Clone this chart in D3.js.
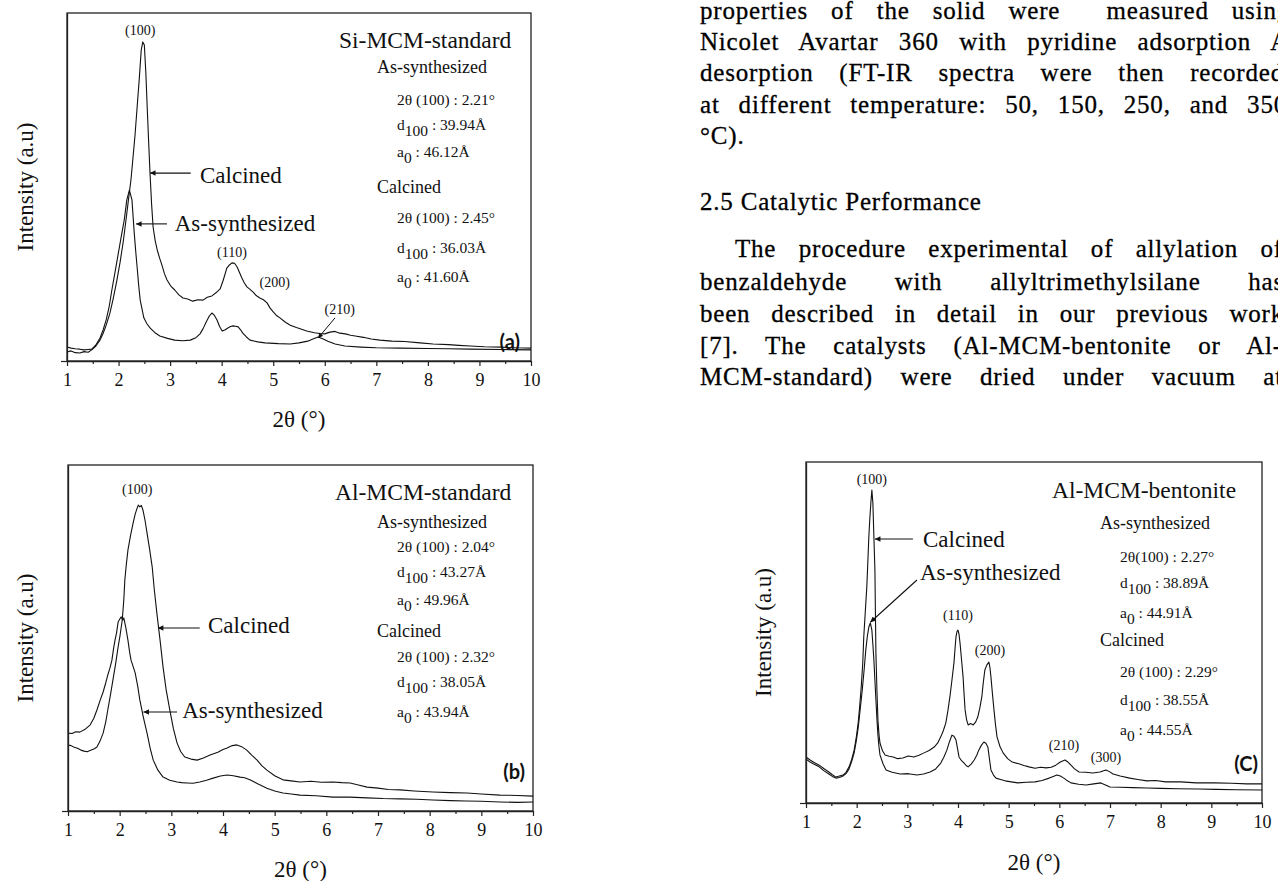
<!DOCTYPE html>
<html>
<head>
<meta charset="utf-8">
<script src="https://cdn.jsdelivr.net/npm/d3@7"></script>
<style>
body { margin: 0; background: #fff; }
svg { display: block; }
.ser { font-family: "Liberation Serif", "Times New Roman", serif; fill: #111; }
.tag { font-family: Lato, "Open Sans", sans-serif; font-weight: bold; font-size: 20px; fill: #111; }
</style>
</head>
<body>
<script>
// x ticks (2theta, degrees)
var xTicks = [1, 2, 3, 4, 5, 6, 7, 8, 9, 10];
var xMinor = [1.5, 2.5, 3.5, 4.5, 5.5, 6.5, 7.5, 8.5, 9.5];

// (a) Si-MCM-standard, [2theta, intensity a.u.]
var aCalcined = [[1.00,2.6],[1.08,2.9],[1.16,2.4],[1.25,2.3],[1.33,2.7],[1.41,2.5],[1.48,3.2],[1.56,4.3],[1.64,6.0],[1.70,7.9],[1.76,10.3],[1.83,13.6],[1.89,17.5],[1.96,22.6],[2.03,28.4],[2.09,34.2],[2.14,40.0],[2.19,46.1],[2.24,52.0],[2.28,58.4],[2.32,65.0],[2.36,72.9],[2.40,80.7],[2.44,89.4],[2.47,91.7],[2.50,90.8],[2.53,82.6],[2.55,75.0],[2.58,64.2],[2.61,54.0],[2.64,45.3],[2.67,38.5],[2.71,34.6],[2.75,31.9],[2.80,29.4],[2.84,27.6],[2.89,25.1],[2.94,23.3],[3.01,21.6],[3.09,20.4],[3.17,19.0],[3.25,18.1],[3.34,17.8],[3.44,17.2],[3.54,17.6],[3.64,17.5],[3.72,18.3],[3.81,18.7],[3.89,19.6],[3.97,20.7],[4.03,23.2],[4.10,26.7],[4.15,27.6],[4.20,28.2],[4.25,28.1],[4.30,27.0],[4.35,25.3],[4.39,23.9],[4.44,22.4],[4.49,21.3],[4.55,20.6],[4.61,19.8],[4.67,18.8],[4.74,18.1],[4.81,17.6],[4.88,16.7],[4.94,15.2],[5.00,14.1],[5.07,13.0],[5.13,12.4],[5.23,11.2],[5.33,10.3],[5.45,9.6],[5.55,9.1],[5.65,8.6],[5.80,8.1],[5.90,7.9],[6.00,7.8],[6.10,8.3],[6.20,8.5],[6.29,8.0],[6.40,7.8],[6.50,7.4],[6.59,7.2],[6.75,6.8],[6.90,6.3],[7.07,6.0],[7.30,5.7],[7.55,5.6],[7.85,5.2],[8.10,4.9],[8.40,4.7],[8.60,4.5],[8.82,4.3],[9.10,4.1],[9.40,4.0],[9.70,3.8],[10.0,3.7]];
var aSynth = [[1.00,4.0],[1.08,3.7],[1.16,3.5],[1.25,3.4],[1.33,3.2],[1.41,3.3],[1.48,3.4],[1.56,4.6],[1.64,6.6],[1.70,8.9],[1.76,11.8],[1.82,15.8],[1.87,20.4],[1.93,25.4],[1.99,30.5],[2.05,35.6],[2.11,40.5],[2.16,46.3],[2.21,49.1],[2.26,46.3],[2.30,37.6],[2.33,32.0],[2.36,27.0],[2.39,21.8],[2.42,17.5],[2.49,12.4],[2.55,10.7],[2.61,9.5],[2.70,8.2],[2.80,7.2],[2.95,6.5],[3.09,6.0],[3.24,5.8],[3.39,6.0],[3.50,6.7],[3.58,7.8],[3.64,9.3],[3.70,11.2],[3.76,12.9],[3.81,13.8],[3.86,13.1],[3.91,11.8],[3.96,9.9],[4.01,8.6],[4.07,9.0],[4.12,9.5],[4.17,9.9],[4.22,10.1],[4.27,10.0],[4.32,9.8],[4.37,8.9],[4.41,8.0],[4.48,6.9],[4.55,6.0],[4.70,5.5],[4.84,5.2],[5.10,5.0],[5.33,4.9],[5.50,5.2],[5.67,5.7],[5.77,6.3],[5.87,6.9],[5.96,6.4],[6.06,5.7],[6.20,4.9],[6.39,4.3],[6.70,4.0],[7.00,3.8],[7.46,3.7],[8.00,3.6],[8.40,3.5],[8.82,3.4],[9.40,3.3],[10.0,3.2]];

// (b) Al-MCM-standard
var bCalcined = [[1.00,19.1],[1.06,18.9],[1.12,18.4],[1.17,18.2],[1.25,17.6],[1.31,17.3],[1.37,17.1],[1.45,17.6],[1.51,18.0],[1.56,18.5],[1.62,20.2],[1.68,22.5],[1.73,25.7],[1.77,29.2],[1.82,33.4],[1.87,37.9],[1.92,42.4],[1.97,47.4],[2.01,51.0],[2.05,55.2],[2.08,61.0],[2.10,66.8],[2.13,71.4],[2.16,75.4],[2.21,79.6],[2.26,83.2],[2.30,85.8],[2.34,87.6],[2.36,88.4],[2.39,87.9],[2.42,88.3],[2.45,87.0],[2.49,84.1],[2.53,80.3],[2.58,75.6],[2.63,70.5],[2.67,64.0],[2.72,57.2],[2.78,49.6],[2.84,41.6],[2.90,35.0],[2.97,29.2],[3.04,23.8],[3.11,19.7],[3.18,17.2],[3.26,15.6],[3.38,15.0],[3.50,14.7],[3.62,15.3],[3.75,16.2],[3.90,17.0],[4.00,17.8],[4.08,18.2],[4.18,18.9],[4.27,19.1],[4.36,18.6],[4.46,17.6],[4.56,16.1],[4.66,14.7],[4.75,13.1],[4.85,11.8],[5.00,10.2],[5.16,9.0],[5.32,8.7],[5.49,8.4],[5.70,8.6],[5.90,8.3],[6.13,8.4],[6.30,8.2],[6.46,8.1],[6.62,7.5],[6.79,6.9],[7.00,6.6],[7.20,6.2],[7.43,6.1],[7.70,5.8],[8.06,5.5],[8.40,5.3],[8.72,5.2],[9.00,4.9],[9.36,4.6],[9.70,4.5],[10.0,4.3]];
var bSynth = [[1.00,22.5],[1.08,22.4],[1.15,22.9],[1.23,22.8],[1.33,23.6],[1.43,24.9],[1.50,26.8],[1.56,29.2],[1.62,31.9],[1.68,34.4],[1.73,37.0],[1.77,39.3],[1.81,41.2],[1.85,43.6],[1.88,46.8],[1.91,49.4],[1.94,51.5],[1.97,54.6],[2.00,55.4],[2.03,56.1],[2.06,55.2],[2.08,55.8],[2.12,52.9],[2.16,49.4],[2.19,46.2],[2.22,43.6],[2.26,41.8],[2.30,39.9],[2.35,36.0],[2.39,32.1],[2.46,27.0],[2.53,22.5],[2.59,18.2],[2.65,14.7],[2.74,11.8],[2.84,9.8],[2.97,8.9],[3.11,8.4],[3.20,8.2],[3.30,8.1],[3.42,8.0],[3.55,8.4],[3.68,8.9],[3.81,9.5],[3.95,10.1],[4.08,10.4],[4.20,10.2],[4.33,9.8],[4.42,9.6],[4.52,9.0],[4.68,7.8],[4.85,6.6],[5.00,5.8],[5.16,5.2],[5.32,4.9],[5.49,4.6],[5.80,4.4],[6.13,4.0],[6.45,4.0],[6.79,3.8],[7.10,3.6],[7.43,3.5],[7.75,3.4],[8.06,3.2],[8.40,3.0],[8.70,2.9],[9.00,2.8],[9.36,2.6],[9.70,2.5],[10.0,2.6]];

// (C) Al-MCM-bentonite
var cCalcined = [[1.00,13.5],[1.08,12.6],[1.17,11.8],[1.26,11.1],[1.35,10.1],[1.45,9.1],[1.52,8.3],[1.59,7.6],[1.66,7.9],[1.73,8.2],[1.79,9.0],[1.85,10.6],[1.90,12.7],[1.95,15.5],[1.99,19.0],[2.03,23.5],[2.06,28.4],[2.09,34.0],[2.12,41.0],[2.14,48.7],[2.17,56.0],[2.20,63.3],[2.22,70.5],[2.24,78.0],[2.26,83.5],[2.28,88.0],[2.30,91.8],[2.32,88.0],[2.34,78.0],[2.36,68.3],[2.37,56.0],[2.38,44.0],[2.40,33.0],[2.42,24.3],[2.44,20.2],[2.46,17.6],[2.51,15.3],[2.56,14.1],[2.64,13.7],[2.72,13.5],[2.81,13.0],[2.91,13.2],[3.02,13.8],[3.13,13.5],[3.23,14.0],[3.33,14.7],[3.43,15.4],[3.53,16.4],[3.60,17.6],[3.66,19.4],[3.71,21.2],[3.76,23.5],[3.80,27.0],[3.84,31.1],[3.88,36.0],[3.92,41.1],[3.94,45.0],[3.96,48.7],[3.98,50.3],[4.00,50.7],[4.02,49.5],[4.04,46.9],[4.07,42.0],[4.10,37.0],[4.12,31.9],[4.14,27.3],[4.17,24.4],[4.20,22.9],[4.25,23.3],[4.30,22.9],[4.35,23.8],[4.39,25.2],[4.43,27.8],[4.47,31.1],[4.50,35.4],[4.53,39.0],[4.57,40.5],[4.61,41.3],[4.63,39.8],[4.65,37.0],[4.68,32.0],[4.71,27.3],[4.74,23.0],[4.77,19.4],[4.83,16.5],[4.89,14.7],[4.98,13.0],[5.07,12.0],[5.20,11.5],[5.30,11.0],[5.40,10.6],[5.52,10.2],[5.63,10.5],[5.74,10.3],[5.84,10.5],[5.93,11.1],[6.02,12.0],[6.11,12.6],[6.17,12.0],[6.23,11.1],[6.30,10.0],[6.39,9.1],[6.52,9.0],[6.66,8.8],[6.80,9.1],[6.92,9.7],[6.99,9.2],[7.06,8.5],[7.20,7.9],[7.39,7.3],[7.55,6.9],[7.73,6.5],[7.90,6.6],[8.10,6.2],[8.40,6.2],[8.70,5.9],[9.07,5.9],[9.40,5.8],[9.70,5.6],[10.0,5.6]];
var cSynth = [[1.00,12.9],[1.08,12.0],[1.17,11.3],[1.26,10.6],[1.35,9.5],[1.45,8.5],[1.52,7.8],[1.59,7.3],[1.66,7.5],[1.73,7.9],[1.79,8.6],[1.85,10.0],[1.90,12.1],[1.95,14.7],[1.99,18.0],[2.03,22.0],[2.07,27.5],[2.11,33.1],[2.15,39.5],[2.18,44.9],[2.21,48.8],[2.24,51.6],[2.27,52.8],[2.30,50.7],[2.32,46.5],[2.34,41.9],[2.36,36.0],[2.38,30.2],[2.40,24.6],[2.42,19.9],[2.44,16.6],[2.46,14.1],[2.52,11.5],[2.58,9.7],[2.70,9.0],[2.86,8.5],[3.02,8.6],[3.19,8.2],[3.32,8.5],[3.45,9.1],[3.56,10.0],[3.66,11.7],[3.72,13.4],[3.78,15.5],[3.83,17.9],[3.88,19.9],[3.92,19.6],[3.96,18.5],[3.99,16.0],[4.02,13.5],[4.07,12.4],[4.12,11.7],[4.16,11.0],[4.20,10.6],[4.26,11.4],[4.32,12.6],[4.37,14.0],[4.41,15.5],[4.46,16.9],[4.51,17.9],[4.55,17.5],[4.59,16.4],[4.62,13.0],[4.65,9.7],[4.70,8.2],[4.75,7.3],[4.84,6.9],[4.93,6.5],[5.05,6.2],[5.18,5.9],[5.35,6.1],[5.52,6.2],[5.66,6.6],[5.80,7.3],[5.88,7.8],[5.95,8.2],[6.02,7.9],[6.09,7.3],[6.16,6.5],[6.23,5.9],[6.38,5.5],[6.53,5.3],[6.68,5.6],[6.82,5.9],[6.91,5.3],[7.00,4.7],[7.20,4.6],[7.45,4.5],[7.73,4.4],[8.00,4.3],[8.35,4.2],[8.74,4.1],[9.10,4.0],[9.50,3.9],[10.0,3.8]];

// labels
var aTitle = "Si-MCM-standard", bTitle = "Al-MCM-standard", cTitle = "Al-MCM-bentonite";
var aSynthInfo = ["2θ (100) : 2.21°", "39.94Å", "46.12Å"];
var aCalcInfo  = ["2θ (100) : 2.45°", "36.03Å", "41.60Å"];
var bSynthInfo = ["2θ (100) : 2.04°", "43.27Å", "49.96Å"];
var bCalcInfo  = ["2θ (100) : 2.32°", "38.05Å", "43.94Å"];
var cSynthInfo = ["2θ(100) : 2.27°", "38.89Å", "44.91Å"];
var cCalcInfo  = ["2θ (100) : 2.29°", "38.55Å", "44.55Å"];
var aPeaks = ["(100)", "(110)", "(200)", "(210)"];
var bPeaks = ["(100)"];
var cPeaks = ["(100)", "(110)", "(200)", "(210)", "(300)"];

var bodyLines = [
    "properties of the solid were  measured using",
    "Nicolet Avartar 360 with pyridine adsorption A",
    "desorption (FT-IR spectra were then recorded",
    "at different temperature: 50, 150, 250, and 350",
    "°C).",
    "2.5 Catalytic Performance",
    "The procedure experimental of allylation of",
    "benzaldehyde with allyltrimethylsilane has",
    "been described in detail in our previous work",
    "[7]. The catalysts (Al-MCM-bentonite or Al-",
    "MCM-standard) were dried under vacuum at"
];

var svg = d3.select("body").append("svg")
    .attr("width", 1278)
    .attr("height", 881);

svg.append("defs").append("marker")
    .attr("id", "arr")
    .attr("viewBox", "0 0 10 10")
    .attr("refX", 10).attr("refY", 5)
    .attr("markerWidth", 7).attr("markerHeight", 5)
    .attr("orient", "auto")
    .append("path").attr("d", "M0,0L10,5L0,10z").attr("fill", "#111");

// body text on the right, justified by word spacing
var bodyX = [700, 700, 700, 700, 700, 700, 735, 700, 700, 700, 700];
var bodyY = [19, 50, 81, 113, 144, 210, 257, 290, 322, 354, 385];
var bodyEnd = [1290, 1289, 1284, 1287, 0, 0, 1283, 1284, 1284, 1282, 1283];
bodyLines.forEach(function(s, i) {
    var t = svg.append("text")
        .attr("x", bodyX[i]).attr("y", bodyY[i])
        .attr("font-family", "Liberation Serif")
        .attr("font-size", 25)
        .attr("letter-spacing", 0.8)
        .attr("fill", "#000")
        .attr("stroke", "#000").attr("stroke-width", 0.3)
        .attr("xml:space", "preserve")
        .text(s);
    if (bodyEnd[i]) {
        var w = t.node().getComputedTextLength();
        var n = (s.match(/ /g) || []).length;
        t.attr("word-spacing", (bodyEnd[i] - bodyX[i] - w) / n);
    }
});

var panels = [
    {x0: 67, x1: 531, y0: 13, y1: 361, series: [aCalcined, aSynth],
     title: aTitle, synth: aSynthInfo, calc: aCalcInfo,
     info: {tx: 339, ty: 48, hx: 377, vx: 397, rows: [73, 105, 130, 157, 193, 223, 253, 282]},
     peaks: aPeaks, peakPos: [[2.42, 93.7], [4.20, 29.9], [5.03, 21.3], [6.29, 13.5]],
     leader: [[6.20, 12.4], [5.87, 6.6]],
     calcAnn: {at: [3.58, 51.1], from: [3.40, 54.0], to: [2.61, 54.0]},
     synthAnn: {at: [3.09, 37.4], from: [2.94, 39.4], to: [2.34, 39.4]},
     tag: "(a)", tagX: 520, tagY: 349, yTitleX: 25, xTitleY: 427},
    {x0: 68, x1: 533, y0: 465, y1: 811, series: [bCalcined, bSynth],
     title: bTitle, synth: bSynthInfo, calc: bCalcInfo,
     info: {tx: 335, ty: 500, hx: 377, vx: 397, rows: [528, 552, 577, 605, 637, 662, 687, 717]},
     peaks: bPeaks, peakPos: [[2.34, 91.6]],
     leader: null,
     calcAnn: {at: [3.71, 51.4], from: [3.55, 52.9], to: [2.74, 52.9]},
     synthAnn: {at: [3.21, 26.9], from: [3.11, 28.6], to: [2.46, 28.6]},
     tag: "(b)", tagX: 525, tagY: 779, yTitleX: 25, xTitleY: 877},
    {x0: 806, x1: 1262, y0: 462, y1: 803, series: [cCalcined, cSynth],
     title: cTitle, synth: cSynthInfo, calc: cCalcInfo,
     info: {tx: 1052, ty: 498, hx: 1100, vx: 1120, rows: [529, 562, 588, 618, 646, 677, 705, 735]},
     peaks: cPeaks, peakPos: [[2.30, 93.5], [4.00, 53.7], [4.63, 43.4], [6.09, 15.5], [6.92, 12.0]],
     leader: null,
     calcAnn: {at: [3.31, 75.1], from: [3.11, 77.4], to: [2.36, 77.4]},
     synthAnn: {at: [3.25, 65.4], from: [3.19, 65.4], to: [2.27, 53.0]},
     tag: "(C)", tagX: 1258, tagY: 771, yTitleX: 763, xTitleY: 870}
];

panels.forEach(drawPanel);

function drawPanel(p) {
    var x = d3.scaleLinear().domain([1, 10]).range([p.x0, p.x1]);
    var y = d3.scaleLinear().domain([0, 100]).range([p.y1, p.y0]);
    var g = svg.append("g");

    // frame
    g.append("rect")
        .attr("x", p.x0).attr("y", p.y0)
        .attr("width", p.x1 - p.x0).attr("height", p.y1 - p.y0)
        .attr("fill", "none").attr("stroke", "#222").attr("stroke-width", 1.3);

    // patterns
    var line = d3.line().x(function(d) { return x(d[0]); }).y(function(d) { return y(d[1]); });
    p.series.forEach(function(s) {
        g.append("path").datum(s).attr("d", line)
            .attr("fill", "none").attr("stroke", "#111")
            .attr("stroke-width", 1.1).attr("stroke-linejoin", "round");
    });

    // axes
    var xa = g.append("g").attr("transform", "translate(0," + p.y1 + ")")
        .call(d3.axisBottom(x).tickValues(xTicks).tickSize(5).tickSizeOuter(0).tickPadding(7).tickFormat(d3.format("d")));
    xa.attr("font-family", "Liberation Serif").attr("font-size", 18);
    xa.selectAll("text").attr("fill", "#111");
    g.append("g").attr("transform", "translate(0," + p.y1 + ")")
        .call(d3.axisBottom(x).tickValues(xMinor).tickSize(3).tickSizeOuter(0).tickFormat(""))
        .select(".domain").remove();
    g.append("g").attr("transform", "translate(" + p.x0 + ",0)")
        .call(d3.axisLeft(y).tickValues([0]).tickSize(6).tickSizeOuter(0).tickFormat(""));
    g.selectAll(".domain").attr("stroke", "#222").attr("stroke-width", 1.3);
    g.selectAll(".tick line").attr("stroke", "#222").attr("stroke-width", 1.2);

    // axis titles
    g.append("text").attr("class", "ser")
        .attr("x", (p.x0 + p.x1) / 2).attr("y", p.xTitleY)
        .attr("text-anchor", "middle").attr("font-size", 23)
        .text("2θ (°)");
    g.append("text").attr("class", "ser")
        .attr("transform", "translate(" + p.yTitleX + "," + ((p.y0 + p.y1) / 2) + ") rotate(-90)")
        .attr("dy", "0.35em").attr("text-anchor", "middle").attr("font-size", 23)
        .text("Intensity (a.u)");

    // peak indices
    p.peaks.forEach(function(s, i) {
        g.append("text").attr("class", "ser")
            .attr("x", x(p.peakPos[i][0])).attr("y", y(p.peakPos[i][1]))
            .attr("text-anchor", "middle").attr("font-size", 14)
            .text(s);
    });
    if (p.leader) {
        g.append("line")
            .attr("x1", x(p.leader[0][0])).attr("y1", y(p.leader[0][1]))
            .attr("x2", x(p.leader[1][0])).attr("y2", y(p.leader[1][1]))
            .attr("stroke", "#111").attr("stroke-width", 1)
            .attr("marker-end", "url(#arr)");
    }

    // curve annotations with arrows
    [[p.calcAnn, "Calcined"], [p.synthAnn, "As-synthesized"]].forEach(function(a) {
        g.append("text").attr("class", "ser")
            .attr("x", x(a[0].at[0])).attr("y", y(a[0].at[1]))
            .attr("font-size", 23).text(a[1]);
        g.append("line")
            .attr("x1", x(a[0].from[0])).attr("y1", y(a[0].from[1]))
            .attr("x2", x(a[0].to[0])).attr("y2", y(a[0].to[1]))
            .attr("stroke", "#111").attr("stroke-width", 1.1)
            .attr("marker-end", "url(#arr)");
    });

    // info block
    var inf = p.info;
    g.append("text").attr("class", "ser").attr("x", inf.tx).attr("y", inf.ty)
        .attr("font-size", 23.5).text(p.title);
    function block(head, vals, r) {
        g.append("text").attr("class", "ser").attr("x", inf.hx).attr("y", inf.rows[r])
            .attr("font-size", 18).text(head);
        g.append("text").attr("class", "ser").attr("x", inf.vx).attr("y", inf.rows[r + 1])
            .attr("font-size", 15.5).text(vals[0]);
        var t = g.append("text").attr("class", "ser").attr("x", inf.vx).attr("y", inf.rows[r + 2])
            .attr("font-size", 15.5);
        t.append("tspan").text("d");
        t.append("tspan").attr("dy", 6).text("100");
        t.append("tspan").attr("dy", -6).text(" : " + vals[1]);
        var u = g.append("text").attr("class", "ser").attr("x", inf.vx).attr("y", inf.rows[r + 3])
            .attr("font-size", 15.5);
        u.append("tspan").text("a");
        u.append("tspan").attr("dy", 6).text("0");
        u.append("tspan").attr("dy", -6).text(" : " + vals[2]);
    }
    block("As-synthesized", p.synth, 0);
    block("Calcined", p.calc, 4);

    g.append("text").attr("class", "tag")
        .attr("x", p.tagX).attr("y", p.tagY).attr("text-anchor", "end")
        .text(p.tag);
}
</script>
</body>
</html>
